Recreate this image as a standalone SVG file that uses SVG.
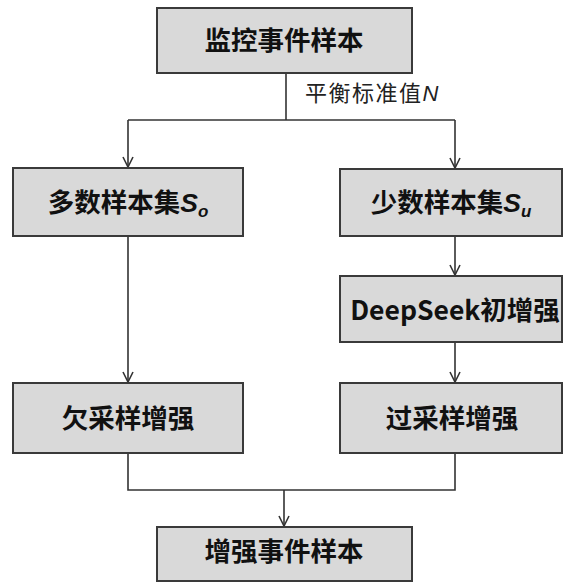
<svg xmlns="http://www.w3.org/2000/svg" width="563" height="583" viewBox="0 0 563 583">
<style>
.box{fill:#d9d9d9;stroke:#3a3a3a;stroke-width:2}
.t{font-family:"Noto Sans CJK SC","Microsoft YaHei",sans-serif;font-weight:bold;font-size:26.5px;fill:#111;text-anchor:middle}
.ln{fill:none;stroke:#333;stroke-width:1.6}
.lbl{font-family:"Noto Sans CJK SC",sans-serif;font-size:22px;letter-spacing:1.5px;fill:#222}
.it{font-style:italic;font-family:"Liberation Sans",sans-serif}
</style>
<defs>
<marker id="a" viewBox="0 0 12 12" refX="11" refY="6" markerWidth="12" markerHeight="12" markerUnits="userSpaceOnUse" orient="auto">
<path d="M1,1 L11,6 L1,11" fill="none" stroke="#333" stroke-width="1.6"/>
</marker>
</defs>
<rect width="563" height="583" fill="#fff"/>
<g id="connectors">
<line class="ln" x1="286" y1="73" x2="286" y2="120"/>
<line class="ln" x1="128" y1="120" x2="455" y2="120"/>
<line class="ln" x1="128" y1="120" x2="128" y2="167" marker-end="url(#a)"/>
<line class="ln" x1="455" y1="120" x2="455" y2="168" marker-end="url(#a)"/>
<line class="ln" x1="128" y1="236" x2="128" y2="382" marker-end="url(#a)"/>
<line class="ln" x1="455" y1="236" x2="455" y2="275" marker-end="url(#a)"/>
<line class="ln" x1="455" y1="342" x2="455" y2="382" marker-end="url(#a)"/>
<polyline class="ln" points="128,453 128,490 455,490 455,453"/>
<line class="ln" x1="284" y1="490" x2="284" y2="526" marker-end="url(#a)"/>
<text class="lbl" x="305" y="101">平衡标准值<tspan class="it">N</tspan></text>
</g>
<g id="n1"><rect class="box" x="157" y="8" width="255" height="65"/><text class="t" x="284" y="50">监控事件样本</text></g>
<g id="n2"><rect class="box" x="13" y="168" width="230" height="68"/><text class="t" x="128" y="212">多数样本集<tspan class="it">S</tspan><tspan class="it" font-size="17" dy="5">o</tspan></text></g>
<g id="n3"><rect class="box" x="340" y="169" width="222" height="67"/><text class="t" x="451" y="212">少数样本集<tspan class="it">S</tspan><tspan class="it" font-size="17" dy="5">u</tspan></text></g>
<g id="n4"><rect class="box" x="340" y="276" width="222" height="66"/><text class="t" x="455" y="320">DeepSeek初增强</text></g>
<g id="n5"><rect class="box" x="13" y="383" width="230" height="70"/><text class="t" x="128" y="428">欠采样增强</text></g>
<g id="n6"><rect class="box" x="340" y="383" width="222" height="70"/><text class="t" x="452" y="428">过采样增强</text></g>
<g id="n7"><rect class="box" x="157" y="527" width="255" height="54"/><text class="t" x="284" y="561">增强事件样本</text></g>
</svg>
